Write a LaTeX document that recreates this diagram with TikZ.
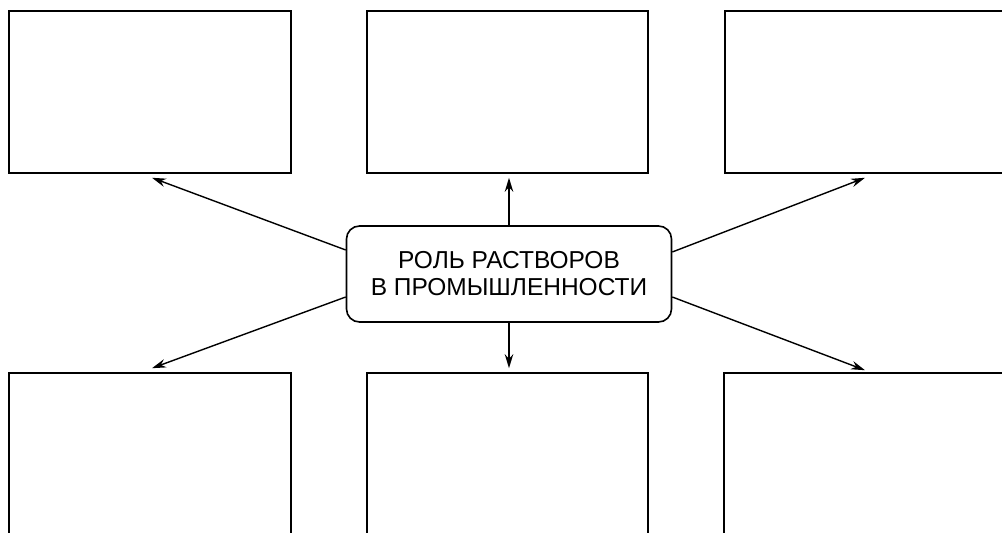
\documentclass[tikz,border=0pt]{standalone}
\usepackage{fontspec}
\setmainfont{Liberation Sans}
\usetikzlibrary{arrows.meta,calc}
\begin{document}
\begin{tikzpicture}[x=1pt,y=1pt,
  blank/.style={draw,line width=1.6pt,minimum width=282pt,minimum height=162pt,inner sep=0pt},
  hub/.style={draw,line width=1.6pt,rounded corners=13pt,minimum width=325pt,minimum height=96pt,align=center,inner sep=0pt,font=\fontsize{24.5}{27}\selectfont},
  link/.style={line width=1.4pt,-{Stealth[length=14pt,width=8.5pt]}}]
\useasboundingbox (0,0) rectangle (1002,533);
\clip (0,0) rectangle (1002,533);
\fill[white] (0,0) rectangle (1002,533);
\node[blank] (tl) at (150,441) {};
\node[blank,minimum width=281pt] (tm) at (507.5,441) {};
\node[blank] (tr) at (866,441) {};
\node[blank] (bl) at (150,79) {};
\node[blank,minimum width=281pt] (bm) at (507.5,79) {};
\node[blank] (br) at (865,79) {};
\node[hub] (c) at (509,259) {РОЛЬ РАСТВОРОВ\\В ПРОМЫШЛЕННОСТИ};
\draw[link] ($(c.west)+(0,24)$) -- ($(tl.south)+(2,-4)$);
\draw[link] ($(c.east)+(0,22)$) -- ($(tr.south)+(-1,-4)$);
\draw[link] ($(c.west)+(0,-23)$) -- ($(bl.north)+(2,4)$);
\draw[link] ($(c.east)+(0,-23)$) -- ($(br.north)+(0,2)$);
\draw[link] (c.north) -- ($(c.north |- tm.south)+(0,-4)$);
\draw[link] (c.south) -- ($(c.south |- bm.north)+(0,4)$);
\end{tikzpicture}
\end{document}
